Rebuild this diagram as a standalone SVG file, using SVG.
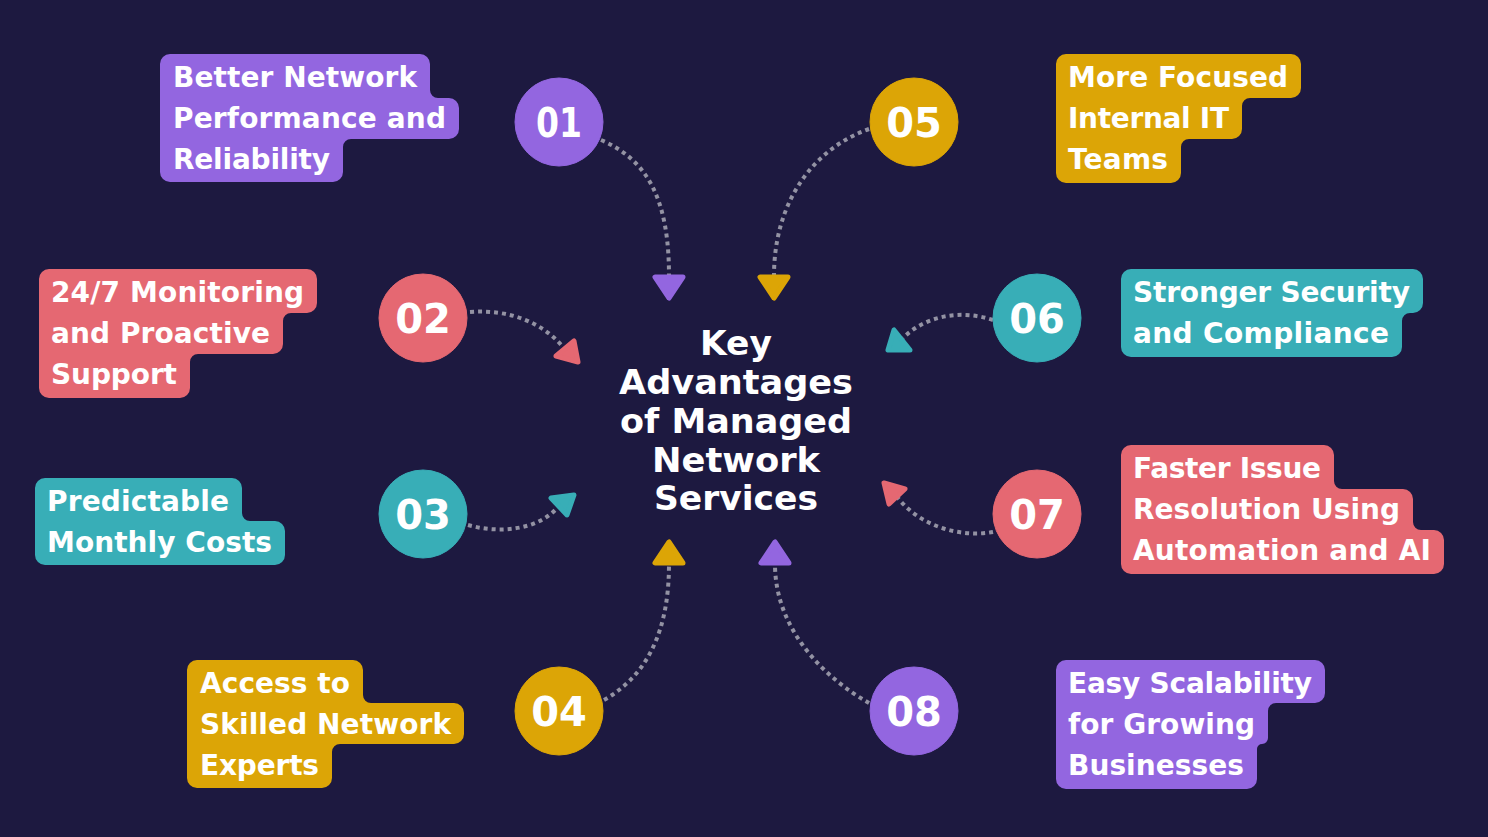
<svg xmlns="http://www.w3.org/2000/svg" width="1488" height="837" viewBox="0 0 1488 837">
<style>
.lbl{font-family:"DejaVu Sans","Liberation Sans",sans-serif;font-weight:bold;font-size:28px;fill:#ffffff}
.num{font-family:"DejaVu Sans","Liberation Sans",sans-serif;font-weight:bold;font-size:40px;fill:#ffffff;text-anchor:middle}
.title{font-family:"DejaVu Sans","Liberation Sans",sans-serif;font-weight:bold;font-size:33px;fill:#ffffff;text-anchor:middle}
.dots{fill:none;stroke:#9392a3;stroke-width:4;stroke-dasharray:4 4}
.head{stroke-width:5;stroke-linejoin:round}
.purple{fill:#9366e0;stroke:#9366e0}
.red{fill:#e56872;stroke:#e56872}
.teal{fill:#38aeb7;stroke:#38aeb7}
.gold{fill:#dca506;stroke:#dca506}
.box{stroke:none}
</style>
<rect width="1488" height="837" fill="#1d1940"/>

<g id="connectors">
<path class="dots" d="M601,140 C648,160 669,200 669,276"/>
<path class="dots" d="M869,129 C815,148 774,200 774,276"/>
<path class="dots" d="M470,312 C510,309 543,323 563,347"/>
<path class="dots" d="M993,320 C960,309 925,316 903,338"/>
<path class="dots" d="M468,525 C500,534 538,530 558,507"/>
<path class="dots" d="M993,532 C960,538 920,526 898,498"/>
<path class="dots" d="M604,700 C648,675 669,630 669,564"/>
<path class="dots" d="M869,703 C825,678 775,630 775,564"/>
<polygon class="head purple" points="655,277 683,277 669,298"/>
<polygon class="head gold" points="760,277 788,277 774,298"/>
<polygon class="head red" points="556,356 574,341 578,362"/>
<polygon class="head teal" points="894,330 888,350 910,350"/>
<polygon class="head teal" points="551,498 574,495 567,515"/>
<polygon class="head red" points="884,483 905,489 889,504"/>
<polygon class="head gold" points="669,542 655,563 683,563"/>
<polygon class="head purple" points="775,542 761,563 789,563"/>
</g>

<g id="title">
<text class="title" x="736" y="355" textLength="72" lengthAdjust="spacingAndGlyphs">Key</text>
<text class="title" x="736" y="394" textLength="234" lengthAdjust="spacingAndGlyphs">Advantages</text>
<text class="title" x="736" y="433" textLength="232" lengthAdjust="spacingAndGlyphs">of Managed</text>
<text class="title" x="736" y="472" textLength="168" lengthAdjust="spacingAndGlyphs">Network</text>
<text class="title" x="736" y="510" textLength="164" lengthAdjust="spacingAndGlyphs">Services</text>
</g>

<g id="node01">
<circle class="purple" cx="559" cy="122" r="44"/>
<text class="num" x="559" y="137" textLength="46" lengthAdjust="spacingAndGlyphs">01</text>
<path class="box purple" d="M170,54 H420 A10,10 0 0 1 430,64 V90 A8,8 0 0 0 438,98 H449 A10,10 0 0 1 459,108 V129 A10,10 0 0 1 449,139 H351 A8,8 0 0 0 343,147 V172 A10,10 0 0 1 333,182 H170 A10,10 0 0 1 160,172 V64 A10,10 0 0 1 170,54 Z"/>
<text class="lbl" x="173" y="87" textLength="244">Better Network</text>
<text class="lbl" x="173" y="128" textLength="273">Performance and</text>
<text class="lbl" x="173" y="169" textLength="157">Reliability</text>
</g>

<g id="node02">
<circle class="red" cx="423" cy="318" r="44"/>
<text class="num" x="423" y="333">02</text>
<path class="box red" d="M49,269 H307 A10,10 0 0 1 317,279 V303 A10,10 0 0 1 307,313 H291 A8,8 0 0 0 283,321 V344 A10,10 0 0 1 273,354 H198 A8,8 0 0 0 190,362 V388 A10,10 0 0 1 180,398 H49 A10,10 0 0 1 39,388 V279 A10,10 0 0 1 49,269 Z"/>
<text class="lbl" x="51" y="302" textLength="253">24/7 Monitoring</text>
<text class="lbl" x="51" y="343" textLength="219">and Proactive</text>
<text class="lbl" x="51" y="384" textLength="126">Support</text>
</g>

<g id="node03">
<circle class="teal" cx="423" cy="514" r="44"/>
<text class="num" x="423" y="529">03</text>
<path class="box teal" d="M45,478 H232 A10,10 0 0 1 242,488 V513 A8,8 0 0 0 250,521 H275 A10,10 0 0 1 285,531 V555 A10,10 0 0 1 275,565 H45 A10,10 0 0 1 35,555 V488 A10,10 0 0 1 45,478 Z"/>
<text class="lbl" x="47" y="511" textLength="182">Predictable</text>
<text class="lbl" x="47" y="552" textLength="225">Monthly Costs</text>
</g>

<g id="node04">
<circle class="gold" cx="559" cy="711" r="44"/>
<text class="num" x="559" y="726">04</text>
<path class="box gold" d="M197,660 H353 A10,10 0 0 1 363,670 V695 A8,8 0 0 0 371,703 H454 A10,10 0 0 1 464,713 V734 A10,10 0 0 1 454,744 H340 A8,8 0 0 0 332,752 V778 A10,10 0 0 1 322,788 H197 A10,10 0 0 1 187,778 V670 A10,10 0 0 1 197,660 Z"/>
<text class="lbl" x="200" y="693" textLength="150">Access to</text>
<text class="lbl" x="200" y="734" textLength="251">Skilled Network</text>
<text class="lbl" x="200" y="775" textLength="119">Experts</text>
</g>

<g id="node05">
<circle class="gold" cx="914" cy="122" r="44"/>
<text class="num" x="914" y="137">05</text>
<path class="box gold" d="M1066,54 H1291 A10,10 0 0 1 1301,64 V88 A10,10 0 0 1 1291,98 H1250 A8,8 0 0 0 1242,106 V129 A10,10 0 0 1 1232,139 H1189 A8,8 0 0 0 1181,147 V173 A10,10 0 0 1 1171,183 H1066 A10,10 0 0 1 1056,173 V64 A10,10 0 0 1 1066,54 Z"/>
<text class="lbl" x="1068" y="87" textLength="220">More Focused</text>
<text class="lbl" x="1068" y="128" textLength="161">Internal IT</text>
<text class="lbl" x="1068" y="169" textLength="100">Teams</text>
</g>

<g id="node06">
<circle class="teal" cx="1037" cy="318" r="44"/>
<text class="num" x="1037" y="333">06</text>
<path class="box teal" d="M1131,269 H1413 A10,10 0 0 1 1423,279 V303 A10,10 0 0 1 1413,313 H1410 A8,8 0 0 0 1402,321 V347 A10,10 0 0 1 1392,357 H1131 A10,10 0 0 1 1121,347 V279 A10,10 0 0 1 1131,269 Z"/>
<text class="lbl" x="1133" y="302" textLength="277">Stronger Security</text>
<text class="lbl" x="1133" y="343" textLength="256">and Compliance</text>
</g>

<g id="node07">
<circle class="red" cx="1037" cy="514" r="44"/>
<text class="num" x="1037" y="529">07</text>
<path class="box red" d="M1131,445 H1324 A10,10 0 0 1 1334,455 V481 A8,8 0 0 0 1342,489 H1403 A10,10 0 0 1 1413,499 V522 A8,8 0 0 0 1421,530 H1434 A10,10 0 0 1 1444,540 V564 A10,10 0 0 1 1434,574 H1131 A10,10 0 0 1 1121,564 V455 A10,10 0 0 1 1131,445 Z"/>
<text class="lbl" x="1133" y="478" textLength="188">Faster Issue</text>
<text class="lbl" x="1133" y="519" textLength="267">Resolution Using</text>
<text class="lbl" x="1133" y="560" textLength="298">Automation and AI</text>
</g>

<g id="node08">
<circle class="purple" cx="914" cy="711" r="44"/>
<text class="num" x="914" y="726">08</text>
<path class="box purple" d="M1066,660 H1315 A10,10 0 0 1 1325,670 V693 A10,10 0 0 1 1315,703 H1276 A8,8 0 0 0 1268,711 V738 A6,6 0 0 1 1262,744 A5,5 0 0 0 1257,749 V779 A10,10 0 0 1 1247,789 H1066 A10,10 0 0 1 1056,779 V670 A10,10 0 0 1 1066,660 Z"/>
<text class="lbl" x="1068" y="693" textLength="244">Easy Scalability</text>
<text class="lbl" x="1068" y="734" textLength="187">for Growing</text>
<text class="lbl" x="1068" y="775" textLength="176">Businesses</text>
</g>
</svg>
